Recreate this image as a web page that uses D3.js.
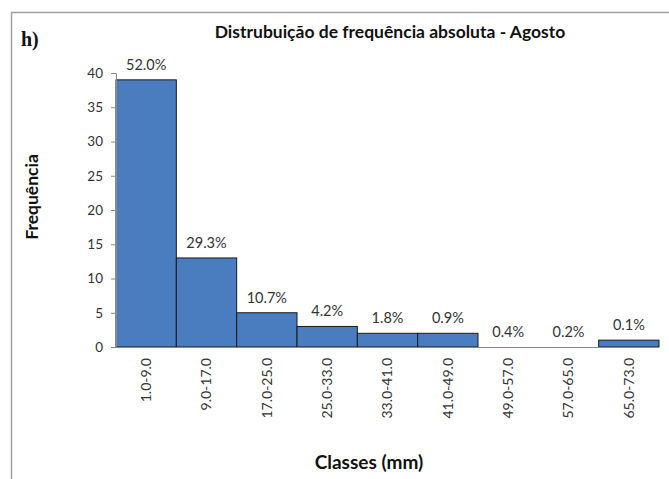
<!DOCTYPE html>
<html>
<head>
<meta charset="utf-8">
<script src="https://cdn.jsdelivr.net/npm/d3@7"></script>
<style>
  body { margin: 0; background: #fff; }
</style>
</head>
<body>
<div id="chart"></div>
<script>
//Data
var classes = ["1.0-9.0", "9.0-17.0", "17.0-25.0", "25.0-33.0", "33.0-41.0", "41.0-49.0", "49.0-57.0", "57.0-65.0", "65.0-73.0"];
var counts = [39, 13, 5, 3, 2, 2, 0, 0, 1];
var percents = ["52.0%", "29.3%", "10.7%", "4.2%", "1.8%", "0.9%", "0.4%", "0.2%", "0.1%"];
var yTicks = [0, 5, 10, 15, 20, 25, 30, 35, 40];

var sans = "Lato, 'Open Sans', sans-serif";

//Set margins and sizes
var W = 669, H = 479;
var margin = { top: 73, bottom: 132, left: 116, right: 10 };
var width = W - margin.left - margin.right;
var height = H - margin.top - margin.bottom;

var svg = d3.select("#chart").append("svg")
  .attr("width", W).attr("height", H)
  .attr("font-family", sans);

//Outer frame
svg.append("path")
  .attr("d", "M11.5," + H + "V12.5H" + W)
  .attr("fill", "none")
  .attr("stroke", "#a0a0a0")
  .attr("stroke-width", 1.5);

var g = svg.append("g")
  .attr("transform", "translate(" + margin.left + "," + margin.top + ")");

var x = d3.scaleBand().domain(classes).range([0, width]).padding(0);
var y = d3.scaleLinear().domain([0, 40]).range([height, 0]);

//Bars
g.selectAll("rect.bar")
  .data(counts)
  .enter()
  .append("rect")
  .attr("class", "bar")
  .attr("x", (d, i) => x(classes[i]))
  .attr("y", d => y(d))
  .attr("width", x.bandwidth())
  .attr("height", d => height - y(d))
  .attr("fill", "#4a7dbf")
  .attr("stroke", "#1a1a1a")
  .attr("stroke-width", 1);

//Percent labels
g.selectAll("text.pct")
  .data(percents)
  .enter()
  .append("text")
  .attr("class", "pct")
  .attr("x", (d, i) => x(classes[i]) + x.bandwidth() / 2)
  .attr("y", (d, i) => y(counts[i]) - 10)
  .attr("text-anchor", "middle")
  .attr("font-family", sans)
  .attr("font-size", 14.5)
  .attr("fill", "#333")
  .text(d => d);

//Y axis
var yAxis = g.append("g")
  .call(d3.axisLeft(y).tickValues(yTicks).tickSize(5).tickPadding(8));
yAxis.selectAll("text").attr("font-family", sans).attr("font-size", 13.5).attr("fill", "#333");
yAxis.selectAll("line, path").attr("stroke", "#888");
yAxis.select(".domain").attr("d", "M-5,0.5H0.5V" + height);

//X axis
var xAxis = g.append("g")
  .attr("transform", "translate(0," + height + ")")
  .call(d3.axisBottom(x).tickSize(0).tickPadding(0));
xAxis.select(".domain").attr("stroke", "#888").attr("d", "M-5,0.5H" + width);
xAxis.selectAll("text")
  .attr("font-family", sans)
  .attr("font-size", 14)
  .attr("fill", "#333")
  .attr("text-anchor", "end")
  .attr("dy", "0.35em")
  .attr("transform", "translate(0,11) rotate(-90)")
  .attr("x", 0)
  .attr("y", 0);

//Titles
svg.append("text")
  .attr("x", 390).attr("y", 38)
  .attr("text-anchor", "middle")
  .attr("font-size", 17.5)
  .attr("font-weight", "bold")
  .attr("fill", "#111")
  .text("Distrubuição de frequência absoluta - Agosto");

svg.append("text")
  .attr("x", 21).attr("y", 46)
  .attr("font-family", "'Liberation Serif', 'DejaVu Serif', serif")
  .attr("font-size", 20)
  .attr("font-weight", "bold")
  .attr("fill", "#111")
  .text("h)");

svg.append("text")
  .attr("transform", "translate(38,197) rotate(-90)")
  .attr("text-anchor", "middle")
  .attr("font-size", 17.5)
  .attr("font-weight", "bold")
  .attr("fill", "#111")
  .text("Frequência");

svg.append("text")
  .attr("x", 369).attr("y", 469)
  .attr("text-anchor", "middle")
  .attr("font-size", 19)
  .attr("font-weight", "bold")
  .attr("fill", "#111")
  .text("Classes (mm)");
</script>
</body>
</html>
